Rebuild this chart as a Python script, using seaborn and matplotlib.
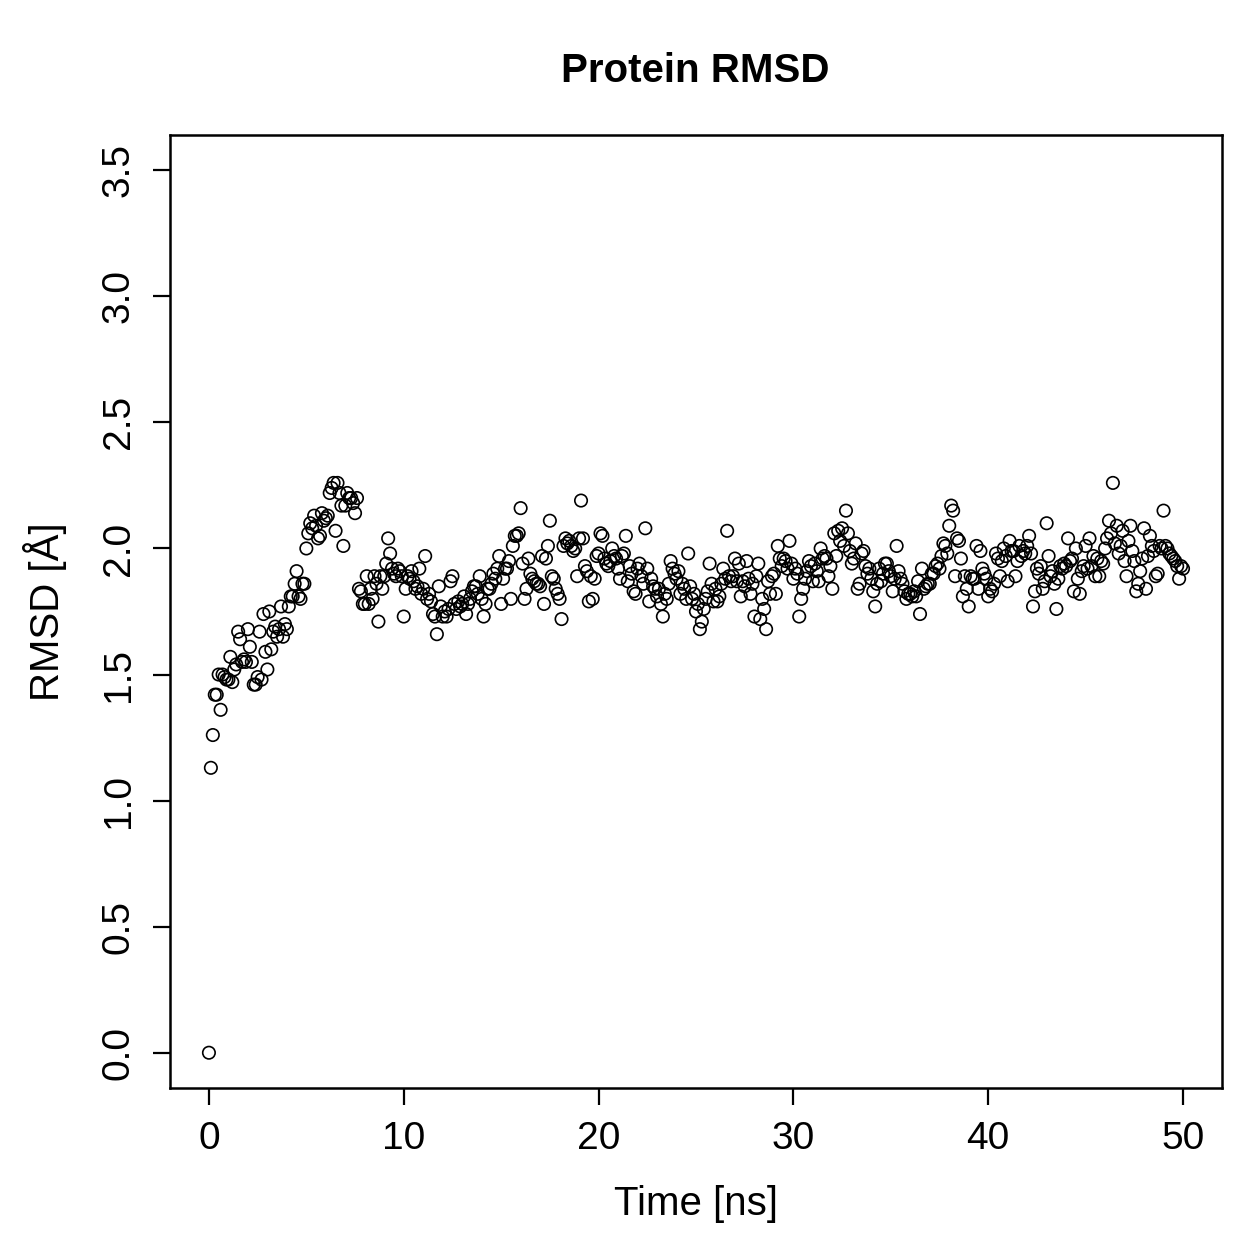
import numpy as np
import pandas as pd
import matplotlib
matplotlib.use("Agg")
import matplotlib.pyplot as plt
import seaborn as sns

# RMSD values (Å), one every 0.1 ns from 0 to 50 ns
rmsd = [
    0.00, 1.13, 1.26, 1.42, 1.42, 1.50, 1.36, 1.50, 1.49, 1.48,
    1.48, 1.57, 1.47, 1.52, 1.54, 1.67, 1.64, 1.55, 1.56, 1.55,
    1.68, 1.61, 1.55, 1.46, 1.46, 1.49, 1.67, 1.48, 1.74, 1.59,
    1.52, 1.75, 1.60, 1.67, 1.69, 1.65, 1.68, 1.77, 1.65, 1.70,
    1.68, 1.77, 1.81, 1.81, 1.86, 1.91, 1.81, 1.80, 1.86, 1.86,
    2.00, 2.06, 2.10, 2.08, 2.13, 2.09, 2.04, 2.05, 2.14, 2.11,
    2.12, 2.13, 2.22, 2.24, 2.26, 2.07, 2.26, 2.22, 2.17, 2.01,
    2.17, 2.22, 2.20, 2.20, 2.18, 2.14, 2.20, 1.84, 1.83, 1.78,
    1.78, 1.89, 1.78, 1.84, 1.80, 1.89, 1.86, 1.71, 1.89, 1.84,
    1.89, 1.94, 2.04, 1.98, 1.92, 1.90, 1.89, 1.92, 1.91, 1.89,
    1.73, 1.84, 1.89, 1.88, 1.91, 1.87, 1.84, 1.85, 1.92, 1.82,
    1.84, 1.97, 1.80, 1.82, 1.79, 1.74, 1.73, 1.66, 1.85, 1.77,
    1.73, 1.75, 1.73, 1.76, 1.87, 1.89, 1.78, 1.76, 1.79, 1.77,
    1.78, 1.81, 1.74, 1.78, 1.80, 1.83, 1.85, 1.85, 1.82, 1.89,
    1.80, 1.73, 1.78, 1.84, 1.84, 1.86, 1.90, 1.88, 1.92, 1.97,
    1.78, 1.88, 1.92, 1.92, 1.95, 1.80, 2.01, 2.05, 2.05, 2.06,
    2.16, 1.94, 1.80, 1.84, 1.96, 1.90, 1.88, 1.87, 1.86, 1.86,
    1.85, 1.97, 1.78, 1.96, 2.01, 2.11, 1.89, 1.88, 1.84, 1.82,
    1.80, 1.72, 2.01, 2.04, 2.02, 2.03, 2.01, 1.99, 2.00, 1.89,
    2.04, 2.19, 2.04, 1.93, 1.91, 1.79, 1.89, 1.80, 1.88, 1.97,
    1.98, 2.06, 2.05, 1.96, 1.94, 1.93, 1.95, 2.00, 1.97, 1.96,
    1.92, 1.88, 1.97, 1.98, 2.05, 1.87, 1.93, 1.90, 1.83, 1.82,
    1.92, 1.94, 1.89, 1.86, 2.08, 1.92, 1.79, 1.88, 1.85, 1.84,
    1.81, 1.84, 1.78, 1.73, 1.82, 1.80, 1.86, 1.95, 1.92, 1.90,
    1.88, 1.91, 1.82, 1.86, 1.84, 1.80, 1.98, 1.85, 1.80, 1.82,
    1.75, 1.78, 1.68, 1.71, 1.76, 1.80, 1.83, 1.94, 1.86, 1.79,
    1.84, 1.79, 1.81, 1.86, 1.92, 1.88, 2.07, 1.89, 1.87, 1.89,
    1.96, 1.87, 1.94, 1.81, 1.87, 1.85, 1.95, 1.88, 1.82, 1.86,
    1.73, 1.89, 1.94, 1.72, 1.80, 1.76, 1.68, 1.87, 1.82, 1.89,
    1.90, 1.82, 2.01, 1.96, 1.93, 1.96, 1.95, 1.92, 2.03, 1.94,
    1.88, 1.92, 1.90, 1.73, 1.80, 1.84, 1.88, 1.91, 1.95, 1.93,
    1.87, 1.94, 1.91, 1.87, 2.00, 1.96, 1.97, 1.96, 1.89, 1.93,
    1.84, 2.06, 1.97, 2.07, 2.03, 2.08, 2.01, 2.15, 2.06, 1.99,
    1.94, 1.96, 2.02, 1.84, 1.86, 1.98, 1.99, 1.93, 1.90, 1.92,
    1.88, 1.83, 1.77, 1.86, 1.92, 1.87, 1.90, 1.94, 1.94, 1.91,
    1.89, 1.83, 1.88, 2.01, 1.91, 1.88, 1.86, 1.83, 1.80, 1.82,
    1.82, 1.81, 1.83, 1.81, 1.87, 1.74, 1.92, 1.84, 1.85, 1.86,
    1.86, 1.90, 1.90, 1.93, 1.94, 1.92, 1.97, 2.02, 2.01, 1.98,
    2.09, 2.17, 2.15, 1.89, 2.04, 2.03, 1.96, 1.81, 1.89, 1.84,
    1.77, 1.89, 1.88, 1.88, 2.01, 1.84, 1.99, 1.92, 1.90, 1.88,
    1.81, 1.84, 1.83, 1.86, 1.98, 1.96, 1.89, 1.95, 2.00, 1.97,
    1.87, 2.03, 1.99, 1.99, 1.89, 1.95, 2.01, 1.97, 1.99, 1.98,
    2.01, 2.05, 1.98, 1.77, 1.83, 1.92, 1.90, 1.93, 1.84, 1.87,
    2.10, 1.97, 1.89, 1.91, 1.86, 1.76, 1.88, 1.93, 1.92, 1.94,
    1.93, 2.04, 1.95, 1.96, 1.83, 2.00, 1.88, 1.82, 1.91, 1.93,
    2.01, 1.92, 2.04, 1.93, 1.97, 1.89, 1.96, 1.89, 1.95, 1.94,
    2.00, 2.04, 2.11, 2.06, 2.26, 2.02, 2.09, 1.98, 2.01, 2.07,
    1.95, 1.89, 2.03, 2.09, 1.99, 1.95, 1.83, 1.86, 1.91, 1.96,
    2.08, 1.84, 1.97, 2.05, 2.01, 1.99, 1.89, 1.90, 2.01, 2.00,
    2.15, 2.01, 2.00, 1.98, 1.97, 1.96, 1.95, 1.93, 1.88, 1.93,
    1.92,
]
time_step_ns = 0.1
time_ns = [round(i * time_step_ns, 1) for i in range(len(rmsd))]

x_ticks = [0, 10, 20, 30, 40, 50]
y_ticks = [0.0, 0.5, 1.0, 1.5, 2.0, 2.5, 3.0, 3.5]
y_tick_labels = ["0.0", "0.5", "1.0", "1.5", "2.0", "2.5", "3.0", "3.5"]

df = pd.DataFrame({"time": time_ns, "rmsd": rmsd})

sns.set_theme(style="white")
plt.rcParams["font.family"] = ["Liberation Sans", "DejaVu Sans"]

fig = plt.figure(figsize=(12.59, 12.59), dpi=100)
ax = fig.add_axes([0.135, 0.1358, 0.8356, 0.757])

sns.scatterplot(data=df, x="time", y="rmsd", ax=ax, marker="o", s=80,
                facecolor="none", edgecolor="black", linewidth=1.2, legend=False)

ax.set_xlim(-2, 52)
ax.set_ylim(-0.14, 3.64)
ax.set_xticks(x_ticks)
ax.set_xticklabels([str(v) for v in x_ticks])
ax.set_yticks(y_ticks)
ax.set_yticklabels(y_tick_labels, rotation=90, va="center")

for sp in ax.spines.values():
    sp.set_visible(True)
    sp.set_color("black")
    sp.set_linewidth(1.8)

ax.tick_params(axis="both", direction="out", length=12, width=1.6,
               color="black", labelsize=28, labelcolor="black", pad=12,
               bottom=True, left=True)

ax.set_xlabel("Time [ns]", fontsize=29, labelpad=20, color="black")
ax.set_ylabel("RMSD [Å]", fontsize=29, labelpad=24, color="black")
fig.text(0.552, 0.944, "Protein RMSD", ha="center", va="center",
         fontsize=29, fontweight="bold", color="black")
ax.grid(False)

fig.savefig("out.png", dpi=100, facecolor="white")
